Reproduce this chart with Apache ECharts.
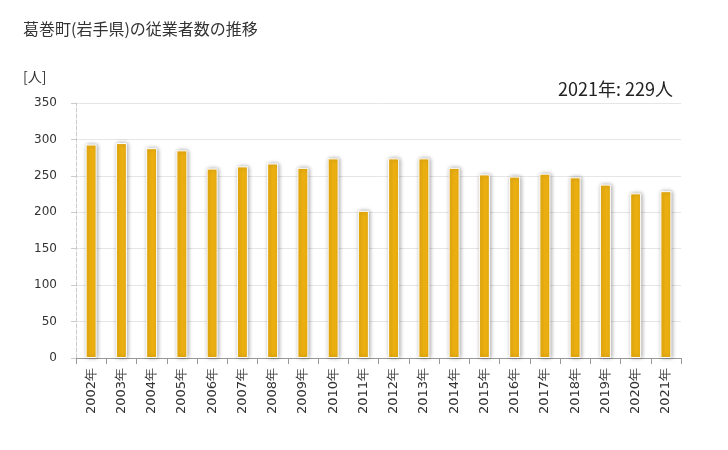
<!DOCTYPE html>
<html><head><meta charset="utf-8">
<script src="https://cdn.jsdelivr.net/npm/echarts@6/dist/echarts.min.js"></script>
<style>html,body{margin:0;padding:0;background:#fff}#c{width:728px;height:450px}</style>
</head><body><div id="c"></div>
<script>
const categories = ['2002年','2003年','2004年','2005年','2006年','2007年','2008年','2009年','2010年','2011年','2012年','2013年','2014年','2015年','2016年','2017年','2018年','2019年','2020年','2021年'];
const values = [293,295,288,285,260,263,267,261,274,202,274,274,261,252,249,253,248,238,226,229];
const yTicks = [0,50,100,150,200,250,300,350];
const chart = echarts.init(document.getElementById('c'));
const font = '"Noto Sans CJK JP", "Noto Sans", sans-serif';
chart.setOption({
  animation:false,
  textStyle:{fontFamily:font},
  title:[
    {text:'葛巻町(岩手県)の従業者数の推移',left:18,top:16,textStyle:{fontSize:16,fontWeight:'normal',color:'#333',fontFamily:font}},
    {text:'[人]',left:18,top:65,textStyle:{fontSize:14,fontWeight:'normal',color:'#333',fontFamily:font}},
    {text:'2021年: 229人',right:50,top:75,textStyle:{fontSize:18,fontWeight:'normal',color:'#222',fontFamily:font}}
  ],
  grid:{left:76,right:47,top:103,bottom:92},
  xAxis:{type:'category',data:categories,
    axisLine:{lineStyle:{color:'#999'}},
    axisTick:{show:true,length:6,lineStyle:{color:'#999'}},
    axisLabel:{rotate:90,fontSize:13,color:'#333',margin:10,fontFamily:'"DejaVu Sans", sans-serif'}},
  yAxis:{type:'value',min:0,max:350,interval:50,
    axisLine:{show:true,lineStyle:{color:'#ccc',type:'dashed'}},
    axisTick:{show:true,length:5,lineStyle:{color:'#ccc'}},
    splitLine:{lineStyle:{color:'#e6e6e6'}},
    axisLabel:{fontSize:12,color:'#333',margin:19,fontFamily:'"DejaVu Sans", sans-serif',
      formatter:v=>yTicks.includes(v)?String(v):''}},
  series:[{type:'bar',data:values,barWidth:11,
    itemStyle:{color:'#EEB111',borderColor:'#fff',borderWidth:1,shadowColor:'rgba(0,0,0,0.35)',shadowBlur:4,shadowOffsetX:1,shadowOffsetY:0}}]
});
</script></body></html>
